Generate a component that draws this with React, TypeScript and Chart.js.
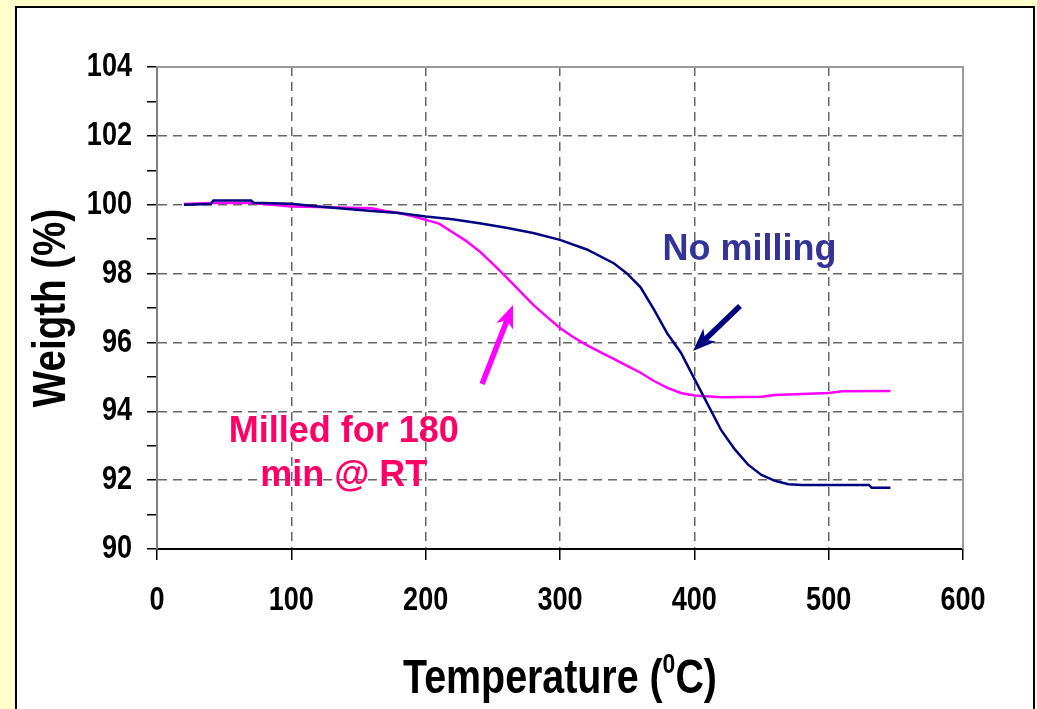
import React, { useEffect, useRef } from 'react';
import { Chart, registerables } from 'chart.js';

Chart.register(...registerables);

// ---- data ----
const noMillingT = [20, 40, 42, 70, 72, 100, 120, 140, 160, 180, 200, 220, 240, 260, 280, 300, 320, 340, 350, 360, 370, 380, 390, 400, 410, 420, 430, 440, 450, 460, 470, 480, 530, 532, 546];
const noMillingW = [100.0, 100.02, 100.12, 100.12, 100.06, 100.03, 99.95, 99.88, 99.82, 99.76, 99.66, 99.58, 99.46, 99.33, 99.18, 98.98, 98.7, 98.3, 98.0, 97.6, 96.95, 96.25, 95.7, 94.95, 94.2, 93.45, 92.9, 92.45, 92.15, 91.98, 91.88, 91.86, 91.86, 91.78, 91.78];

const milledT = [20, 40, 70, 86, 100, 120, 160, 170, 180, 190, 200, 210, 220, 230, 240, 250, 260, 270, 280, 290, 300, 310, 320, 330, 340, 350, 360, 370, 380, 390, 400, 420, 450, 460, 480, 500, 510, 546];
const milledW = [100.02, 100.05, 100.05, 100.0, 99.95, 99.93, 99.9, 99.82, 99.76, 99.67, 99.56, 99.45, 99.2, 98.95, 98.65, 98.28, 97.9, 97.5, 97.1, 96.75, 96.42, 96.15, 95.92, 95.72, 95.52, 95.32, 95.12, 94.88, 94.68, 94.53, 94.46, 94.41, 94.42, 94.47, 94.5, 94.53, 94.58, 94.59];

const xMin = 0, xMax = 600, xStep = 100;
const yMin = 90, yMax = 104, yStep = 1, yLabelEvery = 2;

const seriesNames = ['No milling', 'Milled for 180 min @ RT'];
const seriesColors = ['#000080', '#FF00FF'];

const yTitle = 'Weigth (%)';
const xTitleA = 'Temperature (';
const xTitleSup = '0';
const xTitleC = 'C)';

// annotation texts anchored in data coordinates
const noteTexts = ['No milling', 'Milled for 180', 'min @ RT'];
const noteX = [441, 139, 139];
const noteY = [98.39, 93.1, 91.83];
const noteColors = ['#333399', '#FF0066', '#FF0066'];

// arrows: from (tail) -> to (tip), data coordinates
const arrowFromX = [434, 242];
const arrowFromY = [97.06, 94.79];
const arrowToX = [399, 265];
const arrowToY = [95.75, 97.09];
const arrowColors = ['#000080', '#FF00FF'];

const NARROW = "'Liberation Sans Narrow', 'Liberation Sans', Arial, sans-serif";
const ARIAL = "'Liberation Sans', Arial, sans-serif";
const CONDENSE = 0.82;

function drawArrow(ctx: CanvasRenderingContext2D, x1: number, y1: number, x2: number, y2: number, color: string) {
  const headLen = 23, headW = 9, shaft = 5.5;
  const ang = Math.atan2(y2 - y1, x2 - x1);
  const ux = Math.cos(ang), uy = Math.sin(ang);
  const nx = x2 - ux * headLen * 0.72, ny = y2 - uy * headLen * 0.72;
  const hx = x2 - ux * headLen, hy = y2 - uy * headLen;
  ctx.save();
  ctx.strokeStyle = color;
  ctx.fillStyle = color;
  ctx.lineWidth = shaft;
  ctx.lineCap = 'butt';
  ctx.beginPath();
  ctx.moveTo(x1, y1);
  ctx.lineTo(nx + ux * 2, ny + uy * 2);
  ctx.stroke();
  ctx.beginPath();
  ctx.moveTo(x2, y2);
  ctx.lineTo(hx - uy * headW, hy + ux * headW);
  ctx.lineTo(nx, ny);
  ctx.lineTo(hx + uy * headW, hy - ux * headW);
  ctx.closePath();
  ctx.fill();
  ctx.restore();
}

const decorPlugin = {
  id: 'decor',
  beforeDatasetsDraw(chart: any) {
    const { ctx, chartArea: a } = chart;
    ctx.save();
    ctx.strokeStyle = '#9a9a9a';
    ctx.lineWidth = 2;
    ctx.beginPath();
    ctx.moveTo(a.left, a.top);
    ctx.lineTo(a.right, a.top);
    ctx.lineTo(a.right, a.bottom);
    ctx.stroke();
    ctx.restore();
  },
  afterDatasetsDraw(chart: any) {
    const { ctx, scales } = chart;
    const xs = scales.x, ys = scales.y;
    for (let i = 0; i < arrowColors.length; i++) {
      drawArrow(ctx,
        xs.getPixelForValue(arrowFromX[i]), ys.getPixelForValue(arrowFromY[i]),
        xs.getPixelForValue(arrowToX[i]), ys.getPixelForValue(arrowToY[i]),
        arrowColors[i]);
    }
    ctx.save();
    ctx.textAlign = 'center';
    ctx.textBaseline = 'alphabetic';
    ctx.font = `bold 36px ${ARIAL}`;
    for (let i = 0; i < noteTexts.length; i++) {
      ctx.fillStyle = noteColors[i];
      ctx.fillText(noteTexts[i], xs.getPixelForValue(noteX[i]), ys.getPixelForValue(noteY[i]));
    }
    ctx.restore();
  },
  afterDraw(chart: any) {
    const { ctx, chartArea: a } = chart;
    ctx.save();
    ctx.fillStyle = '#000';
    ctx.textBaseline = 'alphabetic';
    ctx.textAlign = 'left';
    const big = `bold 48px ${NARROW}`;
    const small = `bold 28px ${NARROW}`;
    ctx.font = big;
    const w1 = ctx.measureText(xTitleA).width * CONDENSE;
    const w3 = ctx.measureText(xTitleC).width * CONDENSE;
    ctx.font = small;
    const w2 = ctx.measureText(xTitleSup).width * CONDENSE;
    const total = w1 + w2 + w3;
    const x0 = (a.left + a.right) / 2 - total / 2;
    const base = a.bottom + 144;
    ctx.font = big;
    ctx.fillText(xTitleA, x0, base);
    ctx.font = small;
    ctx.fillText(xTitleSup, x0 + w1, base - 20);
    ctx.font = big;
    ctx.fillText(xTitleC, x0 + w1 + w2, base);
    ctx.restore();
  },
};

export default function App() {
  const ref = useRef<HTMLCanvasElement | null>(null);
  useEffect(() => {
    const canvas = ref.current;
    if (!canvas) return;
    const ctx = canvas.getContext('2d') as CanvasRenderingContext2D;
    // Axis texts in the original use a condensed (narrow) bold face; condense horizontally.
    const origFillText = ctx.fillText.bind(ctx);
    (ctx as any).fillText = (text: string, x: number, y: number, maxWidth?: number) => {
      if (ctx.font.indexOf('Narrow') >= 0) {
        ctx.save();
        ctx.translate(x, y);
        ctx.scale(CONDENSE, 1);
        if (maxWidth === undefined) origFillText(text, 0, 0);
        else origFillText(text, 0, 0, maxWidth / CONDENSE);
        ctx.restore();
      } else if (maxWidth === undefined) {
        origFillText(text, x, y);
      } else {
        origFillText(text, x, y, maxWidth);
      }
    };
    const tickFont = { family: NARROW, size: 33, weight: 'bold' as const };
    const chart = new Chart(canvas, {
      type: 'line',
      data: {
        datasets: [
          {
            label: seriesNames[0],
            data: noMillingT.map((t, i) => ({ x: t, y: noMillingW[i] })),
            borderColor: seriesColors[0],
            borderWidth: 2.5,
            pointRadius: 0,
            tension: 0,
            fill: false,
          },
          {
            label: seriesNames[1],
            data: milledT.map((t, i) => ({ x: t, y: milledW[i] })),
            borderColor: seriesColors[1],
            borderWidth: 2.5,
            pointRadius: 0,
            tension: 0,
            fill: false,
          },
        ],
      },
      options: {
        responsive: false,
        animation: false,
        devicePixelRatio: 1,
        layout: { padding: { left: 0, top: 67, right: 74, bottom: 0 } },
        plugins: { legend: { display: false }, tooltip: { enabled: false } },
        scales: {
          x: {
            type: 'linear',
            min: xMin,
            max: xMax,
            ticks: { stepSize: xStep, font: tickFont, color: '#000', padding: 21, maxRotation: 0, autoSkip: false },
            grid: { color: '#666', lineWidth: 1.5, tickColor: '#000', tickLength: 11, tickWidth: 1.5 },
            border: { display: true, color: '#000', width: 2, dash: [9, 6] },
            afterFit: (s: any) => { s.height = 160; },
          },
          y: {
            type: 'linear',
            min: yMin,
            max: yMax,
            ticks: {
              stepSize: yStep,
              autoSkip: false,
              font: tickFont,
              color: '#000',
              padding: 15,
              callback: (v: any) => (Number(v) % yLabelEvery === 0 ? String(v) : ''),
            },
            grid: {
              color: (c: any) => (c.tick && c.tick.value % yLabelEvery === 0 && c.tick.value !== yMax ? '#666' : 'rgba(0,0,0,0)'),
              lineWidth: 1.5,
              tickColor: '#000',
              tickLength: 10,
              tickWidth: 1.5,
            },
            border: { display: true, color: '#808080', width: 2, dash: [9, 6] },
            title: {
              display: true,
              text: yTitle,
              color: '#000',
              font: { family: NARROW, size: 47, weight: 'bold' },
              padding: { top: 24, bottom: 0 },
            },
            afterFit: (s: any) => { s.width = 157; },
          },
        },
      },
      plugins: [decorPlugin],
    });
    return () => {
      chart.destroy();
      (ctx as any).fillText = origFillText;
    };
  }, []);

  return (
    <div style={{ position: 'fixed', left: 0, top: 0, width: 1037, height: 709, background: '#FFFFCC', overflow: 'hidden' }}>
      <div style={{ position: 'absolute', left: 15, top: 6, width: 1020, height: 760, boxSizing: 'border-box', border: '2px solid #000', background: '#fff' }} />
      <canvas ref={ref} width={1037} height={709} style={{ position: 'absolute', left: 0, top: 0, width: 1037, height: 709 }} />
    </div>
  );
}
